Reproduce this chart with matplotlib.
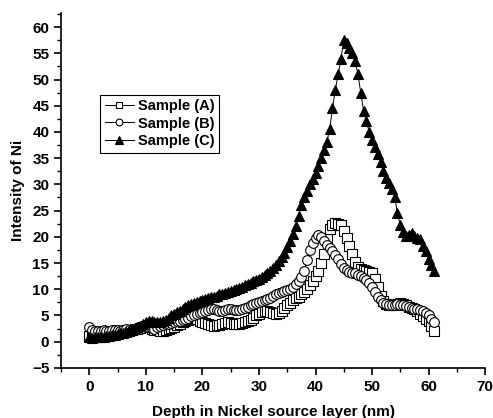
import numpy as np
import matplotlib
matplotlib.use('Agg')
from matplotlib import pyplot as plt
from matplotlib.ticker import MultipleLocator

# depth grid (nm), one point every 0.5 nm
depth = np.arange(0, 61.01, 0.5)

sample_a = [
    1.0, 1.1, 1.2, 1.3, 1.2, 1.4, 1.5, 1.6, 1.6, 1.8, 1.9, 2.0, 2.0, 2.2, 2.1, 2.3, 2.4, 2.5, 2.6, 2.8, 2.9,
    2.7, 2.5, 2.3, 2.2, 2.1, 2.0, 2.2, 2.4, 2.6, 2.8, 3.1, 3.4, 3.7, 4.0, 4.2, 4.4, 4.5, 4.3, 4.0, 3.7,
    3.5, 3.3, 3.1, 3.0, 3.1, 3.2, 3.4, 3.6, 3.8, 3.6, 3.4, 3.3, 3.4, 3.5, 3.7, 3.9, 4.2, 4.6, 5.0, 5.3,
    5.6, 5.8, 5.9, 5.7, 5.4, 5.2, 5.4, 5.9, 6.4, 6.9, 7.4, 7.9, 8.3, 8.6, 9.0, 9.5, 10.0, 10.8, 11.6, 12.5,
    13.5, 15.0, 16.8, 19.5, 21.5, 22.3, 22.6, 22.5, 22.2, 21.2, 19.8, 18.2, 16.8, 15.2, 14.2, 13.8, 13.6, 13.5, 13.3, 13.0,
    12.0, 10.4, 8.8, 7.8, 7.2, 7.0, 6.9, 7.0, 7.2, 7.3, 7.1, 6.9, 6.7, 6.5, 6.2, 5.8, 5.3, 4.9, 4.4, 3.9, 3.0, 2.0,
]
sample_b = [
    2.7, 2.3, 2.1, 2.0, 2.1, 2.2, 2.0, 2.1, 2.2, 2.3, 2.2, 2.1, 2.3, 2.4, 2.2, 2.3, 2.5, 2.6, 2.5, 2.6, 2.7,
    2.8, 2.6, 2.5, 2.7, 2.9, 3.1, 3.3, 3.4, 3.6, 3.8, 3.9, 4.0, 4.2, 4.4, 4.6, 4.9, 5.1, 5.3, 5.5, 5.7,
    5.9, 6.0, 6.2, 6.3, 6.1, 5.9, 5.8, 6.0, 6.2, 6.3, 6.1, 6.0, 6.1, 6.3, 6.5, 6.7, 6.9, 7.1, 7.3, 7.5,
    7.7, 7.9, 8.1, 8.4, 8.7, 9.0, 9.3, 9.5, 9.6, 9.8, 10.0, 10.4, 11.0, 11.6, 12.4, 13.5, 15.5, 17.5, 18.8, 19.8,
    20.3, 19.9, 19.2, 18.5, 17.8, 17.2, 16.5, 15.7, 14.8, 14.1, 13.6, 13.3, 13.1, 13.0, 12.8, 12.5, 12.2, 11.8, 11.2, 10.4,
    9.5, 8.6, 7.9, 7.4, 7.1, 7.0, 6.9, 7.0, 7.1, 7.0, 6.9, 6.8, 6.7, 6.5, 6.3, 6.2, 6.0, 5.8, 5.4, 5.0, 4.4, 3.8,
]
sample_c = [
    0.8, 0.7, 0.8, 0.9, 0.8, 0.9, 1.0, 1.1, 1.2, 1.3, 1.4, 1.6, 1.7, 1.9, 2.0, 2.2, 2.4, 2.7, 3.0, 3.4, 3.8,
    4.0, 3.9, 3.8, 3.7, 3.8, 3.9, 4.2, 4.6, 5.0, 5.3, 5.6, 5.9, 6.2, 6.6, 6.9, 7.1, 7.3, 7.6, 7.8, 8.0,
    8.1, 8.3, 8.5, 8.6, 8.8, 9.0, 9.1, 9.3, 9.5, 9.7, 9.9, 10.1, 10.3, 10.5, 10.8, 11.0, 11.2, 11.5, 11.8, 12.0,
    12.3, 12.7, 13.1, 13.5, 14.0, 14.6, 15.4, 16.2, 17.0, 18.0, 19.2, 20.5, 22.0, 24.0, 26.0, 27.5, 28.8, 30.0, 31.0, 32.2,
    33.5, 35.0, 36.5, 38.0, 40.5, 44.5, 48.0, 51.0, 54.0, 57.5, 57.0, 56.0, 55.0, 53.5, 51.0, 47.5, 44.0, 42.0, 40.0, 38.5,
    37.2, 35.8, 34.2, 32.5, 31.2, 30.2, 29.2, 27.5, 24.5, 22.2, 21.0, 20.2, 20.4, 20.8, 20.2, 19.8, 19.5, 18.3, 17.2, 15.8, 14.6, 13.5,
]

plt.rcParams['font.family'] = ['Liberation Sans', 'DejaVu Sans']
plt.rcParams['font.weight'] = 'bold'

fig = plt.figure(figsize=(4.93, 4.18), dpi=100)
ax = fig.add_axes([0.124, 0.12, 0.86, 0.849])

ax.plot(depth, sample_a, color='black', lw=0.7, marker='s', ms=6.5, mfc='white',
        mec='black', mew=0.8, label='Sample (A)')
ax.plot(depth, sample_b, color='black', lw=0.7, marker='o', ms=7, mfc='white',
        mec='black', mew=0.8, label='Sample (B)')
ax.plot(depth, sample_c, color='black', lw=0.7, marker='^', ms=7.5, mfc='black',
        mec='black', mew=0.8, label='Sample (C)')

ax.set_xlim(-5, 70)
ax.set_ylim(-5, 62.7)
ax.xaxis.set_major_locator(MultipleLocator(10))
ax.xaxis.set_minor_locator(MultipleLocator(5))
ax.yaxis.set_major_locator(MultipleLocator(5))
ax.yaxis.set_minor_locator(MultipleLocator(2.5))
ax.spines['top'].set_visible(False)
ax.spines['right'].set_visible(False)
for s in ['left', 'bottom']:
    ax.spines[s].set_linewidth(1.2)
ax.tick_params(which='major', direction='out', length=5, width=1.2, labelsize=11)
ax.tick_params(which='minor', direction='out', length=3, width=1.0)
for lab in ax.get_xticklabels() + ax.get_yticklabels():
    lab.set_fontweight('bold')

ax.set_xlabel('Depth in Nickel source layer (nm)', fontsize=11, fontweight='bold', labelpad=8)
ax.set_ylabel('Intensity of Ni', fontsize=11, fontweight='bold', labelpad=5)

leg = ax.legend(loc='upper left', bbox_to_anchor=(0.092, 0.77), fontsize=10.5,
                frameon=True, fancybox=False, edgecolor='black', framealpha=1,
                handlelength=2.0, handletextpad=0.3, borderpad=0.3,
                labelspacing=0.25, borderaxespad=0, markerscale=0.7)
leg.get_frame().set_linewidth(0.8)
for t in leg.get_texts():
    t.set_fontweight('bold')

fig.savefig('out.png', dpi=100)
